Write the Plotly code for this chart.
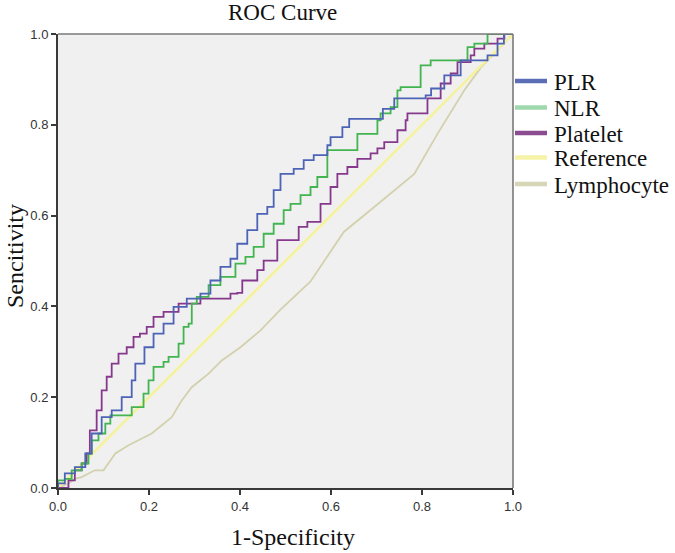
import plotly.graph_objects as go

# ---- data ----
plr_fpr = [0, 0, 0.015, 0.037, 0.06, 0.074, 0.096, 0.118, 0.14, 0.162,
           0.17, 0.19, 0.21, 0.232, 0.254, 0.283, 0.313, 0.335, 0.357, 0.379,
           0.394, 0.416, 0.438, 0.46, 0.474, 0.489, 0.518, 0.54, 0.562, 0.592,
           0.599, 0.625, 0.64, 0.695, 0.714, 0.739, 0.808, 0.82, 0.849, 0.885,
           0.944, 0.966, 0.98, 1.0]
plr_tpr = [0, 0.01, 0.032, 0.046, 0.076, 0.12, 0.156, 0.171, 0.2, 0.237,
           0.274, 0.31, 0.34, 0.362, 0.399, 0.417, 0.428, 0.457, 0.487, 0.505,
           0.538, 0.568, 0.604, 0.619, 0.656, 0.692, 0.703, 0.722, 0.733, 0.755,
           0.773, 0.795, 0.813, 0.813, 0.835, 0.858, 0.865, 0.88, 0.909, 0.942,
           0.953, 0.979, 1.0, 1.0]

nlr_fpr = [0, 0, 0.015, 0.03, 0.052, 0.067, 0.074, 0.089, 0.104, 0.115,
           0.151, 0.162, 0.176, 0.188, 0.199, 0.21, 0.232, 0.243, 0.258, 0.265,
           0.276, 0.287, 0.294, 0.305, 0.331, 0.357, 0.379, 0.39, 0.412, 0.43,
           0.452, 0.474, 0.496, 0.511, 0.533, 0.555, 0.57, 0.592, 0.643, 0.658,
           0.687, 0.702, 0.709, 0.731, 0.746, 0.753, 0.783, 0.797, 0.819, 0.893,
           0.9, 0.915, 0.93, 0.944, 1.0]
nlr_tpr = [0, 0.017, 0.02, 0.039, 0.054, 0.076, 0.105, 0.12, 0.142, 0.16,
           0.16, 0.178, 0.178, 0.208, 0.237, 0.267, 0.278, 0.289, 0.289, 0.318,
           0.355, 0.362, 0.406, 0.421, 0.447, 0.465, 0.465, 0.494, 0.509, 0.531,
           0.56, 0.582, 0.612, 0.626, 0.645, 0.663, 0.685, 0.744, 0.744, 0.78,
           0.78, 0.81, 0.825, 0.839, 0.876, 0.883, 0.883, 0.931, 0.942, 0.942,
           0.971, 0.979, 0.979, 1.0, 1.0]

plt_fpr = [0, 0.023, 0.037, 0.052, 0.063, 0.07, 0.085, 0.096, 0.107, 0.118,
           0.133, 0.151, 0.166, 0.18, 0.195, 0.21, 0.232, 0.254, 0.265, 0.305,
           0.313, 0.372, 0.379, 0.394, 0.405, 0.427, 0.438, 0.452, 0.467, 0.482,
           0.518, 0.529, 0.548, 0.57, 0.577, 0.599, 0.614, 0.636, 0.658, 0.687,
           0.702, 0.717, 0.731, 0.746, 0.764, 0.768, 0.805, 0.812, 0.841, 0.863,
           0.878, 0.907, 0.915, 0.937, 0.966, 0.981, 1.0]
plt_tpr = [0, 0.017, 0.039, 0.054, 0.076, 0.127, 0.171, 0.215, 0.245, 0.274,
           0.296, 0.31, 0.333, 0.34, 0.355, 0.377, 0.388, 0.388, 0.406, 0.406,
           0.417, 0.417, 0.428, 0.43, 0.457, 0.457, 0.48, 0.501, 0.501, 0.546,
           0.546, 0.575, 0.586, 0.586, 0.626, 0.663, 0.692, 0.707, 0.725, 0.737,
           0.748, 0.762, 0.762, 0.788, 0.81, 0.825, 0.825, 0.858, 0.891, 0.913,
           0.938, 0.953, 0.968, 0.979, 0.99, 1.0, 1.0]

ref_fpr = [0, 1]
ref_tpr = [0, 1]

lym_fpr = [0, 0.023, 0.037, 0.052, 0.067, 0.081, 0.1, 0.126, 0.155, 0.192,
           0.206, 0.25, 0.272, 0.294, 0.331, 0.36, 0.401, 0.445, 0.489, 0.555,
           0.628, 0.695, 0.783, 0.834, 0.893, 0.93, 0.959, 1.0]
lym_tpr = [0, 0.01, 0.02, 0.024, 0.032, 0.039, 0.039, 0.076, 0.094, 0.112,
           0.12, 0.156, 0.193, 0.222, 0.252, 0.281, 0.31, 0.347, 0.393, 0.455,
           0.564, 0.619, 0.692, 0.78, 0.876, 0.927, 0.957, 1.0]

legend_labels = ["PLR", "NLR", "Platelet", "Reference", "Lymphocyte"]
legend_colors = ["#5a6db5", "#9fd8ad", "#8b4c90", "#f6f3a6", "#d7d5b7"]

tick_vals = [0, 0.2, 0.4, 0.6, 0.8, 1.0]
tick_text = ["0.0", "0.2", "0.4", "0.6", "0.8", "1.0"]

# ---- figure ----
SERIF = "Liberation Serif, Times New Roman, serif"
SANS = "Liberation Sans, Arial, sans-serif"

fig = go.Figure()
fig.add_trace(go.Scatter(x=lym_fpr, y=lym_tpr, mode="lines", name="Lymphocyte",
                         line=dict(color="#d3d1ad", width=1.8), cliponaxis=False))
fig.add_trace(go.Scatter(x=ref_fpr, y=ref_tpr, mode="lines", name="Reference",
                         line=dict(color="#f5f29b", width=2.6), cliponaxis=False))
fig.add_trace(go.Scatter(x=plt_fpr, y=plt_tpr, mode="lines", name="Platelet",
                         line=dict(color="#86398c", width=1.8, shape="hv"), cliponaxis=False))
fig.add_trace(go.Scatter(x=nlr_fpr, y=nlr_tpr, mode="lines", name="NLR",
                         line=dict(color="#42b450", width=1.8, shape="hv"), cliponaxis=False))
fig.add_trace(go.Scatter(x=plr_fpr, y=plr_tpr, mode="lines", name="PLR",
                         line=dict(color="#4d63b6", width=1.8, shape="hv"), cliponaxis=False))

W, H = 675, 553
# plot area in page pixels
L, R, T, B = 58, 513, 34, 488

def px(x):
    return (x - L) / (R - L)

def py(y):
    return (B - y) / (B - T)

shapes = [
    dict(type="line", xref="paper", yref="paper", x0=0, x1=1, y0=1, y1=1,
         line=dict(color="#7a7a7a", width=1.6), layer="above"),
    dict(type="line", xref="paper", yref="paper", x0=1, x1=1, y0=0, y1=1,
         line=dict(color="#7a7a7a", width=1.6), layer="above"),
]
annotations = []
legend_y = [81, 107.5, 133, 157.5, 184]
for lab, col, yy in zip(legend_labels, legend_colors, legend_y):
    shapes.append(dict(type="line", xref="paper", yref="paper",
                       x0=px(515), x1=px(547), y0=py(yy), y1=py(yy),
                       line=dict(color=col, width=4.5)))
    annotations.append(dict(text=lab, xref="paper", yref="paper", x=px(552), y=py(yy + 1),
                            xanchor="left", yanchor="middle", showarrow=False,
                            font=dict(family=SERIF, size=23, color="#111")))

annotations.append(dict(text="ROC Curve", xref="paper", yref="paper", x=px(282.5), y=py(12),
                        xanchor="center", yanchor="middle", showarrow=False,
                        font=dict(family=SERIF, size=23, color="#111")))
annotations.append(dict(text="1-Specificity", xref="paper", yref="paper", x=px(293), y=py(537),
                        xanchor="center", yanchor="middle", showarrow=False,
                        font=dict(family=SERIF, size=24, color="#111")))
annotations.append(dict(text="Sencitivity", xref="paper", yref="paper", x=px(15), y=py(256),
                        xanchor="center", yanchor="middle", showarrow=False, textangle=-90,
                        font=dict(family=SERIF, size=24, color="#111")))

axis_common = dict(range=[0, 1], tickvals=tick_vals, ticktext=tick_text,
                   showgrid=False, zeroline=False, showline=True,
                   linecolor="#3a3a3a", linewidth=2, ticks="outside", ticklen=5,
                   tickwidth=1.6, tickcolor="#3a3a3a",
                   tickfont=dict(family=SANS, size=13, color="#333"))

fig.update_layout(
    width=W, height=H,
    margin=dict(l=L, r=W - R, t=T, b=H - B, pad=0),
    paper_bgcolor="white", plot_bgcolor="#f0f0f0",
    showlegend=False,
    xaxis=dict(**axis_common),
    yaxis=dict(**axis_common),
    shapes=shapes, annotations=annotations,
)

fig.write_html("out.html",
               config={"displayModeBar": False},
               post_script="document.body.style.margin='0';document.body.style.overflow='hidden';")
